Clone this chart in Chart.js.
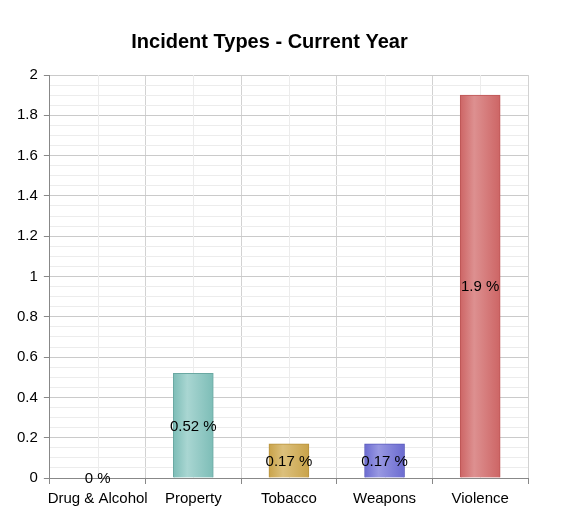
<!DOCTYPE html>
<html>
<head>
<meta charset="utf-8">
<script src="https://cdn.jsdelivr.net/npm/chart.js@4/dist/chart.umd.min.js"></script>
<style>
  html, body { margin: 0; padding: 0; background: #fff; }
  #chart { display: block; }
</style>
</head>
<body>
<canvas id="chart" width="562" height="523"></canvas>
<script>
const categories = ["Drug & Alcohol", "Property", "Tobacco", "Weapons", "Violence"];
const values = [0, 0.52, 0.17, 0.17, 1.9];
// edge / highlight / border colour per bar
const barEdge = ["#9a9a9a", "#7dbdb7", "#c9a34a", "#6b6bd0", "#cd6565"];
const barLight = ["#c0c0c0", "#a9d6d2", "#dcc07c", "#9898e2", "#dd9090"];
const barBorder = ["#888888", "#6aa8a2", "#b8923c", "#5a5abc", "#bd5656"];

const BAR_W = 40;

function isMajor(v) {
  const r = v / 0.2;
  return Math.abs(r - Math.round(r)) < 1e-6;
}

function barGradient(ctx) {
  const chart = ctx.chart;
  const xs = chart.scales.x;
  const i = ctx.dataIndex;
  if (!xs || i === undefined) return barEdge[0];
  const x = xs.getPixelForValue(i);
  if (!isFinite(x)) return barEdge[i];
  const g = chart.ctx.createLinearGradient(x - BAR_W / 2, 0, x + BAR_W / 2, 0);
  g.addColorStop(0, barEdge[i]);
  g.addColorStop(0.35, barLight[i]);
  g.addColorStop(1, barEdge[i]);
  return g;
}

// light vertical lines through category centres
const minorX = {
  id: "minorX",
  beforeDatasetsDraw(chart) {
    const { ctx, chartArea, scales } = chart;
    ctx.save();
    ctx.strokeStyle = "#ececec";
    ctx.lineWidth = 1;
    categories.forEach((c, i) => {
      const x = Math.round(scales.x.getPixelForValue(i)) + 0.5;
      ctx.beginPath();
      ctx.moveTo(x, chartArea.top);
      ctx.lineTo(x, chartArea.bottom);
      ctx.stroke();
    });
    ctx.restore();
  }
};

// value labels in the middle of each bar
const barLabels = {
  id: "barLabels",
  afterDatasetsDraw(chart) {
    const { ctx } = chart;
    const meta = chart.getDatasetMeta(0);
    ctx.save();
    ctx.font = "15px 'Liberation Sans', Arial, sans-serif";
    ctx.fillStyle = "#000";
    ctx.textAlign = "center";
    ctx.textBaseline = "middle";
    meta.data.forEach((bar, i) => {
      const y = (bar.y + bar.base) / 2 + 1;
      ctx.fillText(values[i] + " %", bar.x, y);
    });
    ctx.restore();
  }
};

new Chart(document.getElementById("chart"), {
  type: "bar",
  data: {
    labels: categories,
    datasets: [{
      data: values,
      backgroundColor: barGradient,
      borderColor: barBorder,
      borderWidth: 1,
      barThickness: BAR_W
    }]
  },
  options: {
    responsive: false,
    animation: false,
    layout: { padding: { left: 11, right: 34, top: 30, bottom: 9 } },
    plugins: {
      legend: { display: false },
      tooltip: { enabled: false },
      title: {
        display: true,
        text: "Incident Types - Current Year",
        color: "#000",
        font: { family: "'Liberation Sans', Arial, sans-serif", size: 20, weight: "bold" },
        padding: { top: 0, bottom: 21 }
      }
    },
    scales: {
      x: {
        offset: true,
        grid: {
          offset: true,
          color: "#d2d2d2",
          tickColor: "#888",
          tickLength: 6
        },
        border: { color: "#888" },
        ticks: {
          color: "#000",
          padding: 6,
          maxRotation: 0,
          autoSkip: false,
          font: { family: "'Liberation Sans', Arial, sans-serif", size: 15 }
        }
      },
      y: {
        min: 0,
        max: 2,
        grid: {
          color: c => isMajor(c.tick.value) ? "#cacaca" : "#ececec",
          tickColor: c => isMajor(c.tick.value) ? "#888" : "rgba(0,0,0,0)",
          tickLength: 6
        },
        border: { color: "#888" },
        ticks: {
          stepSize: 0.05,
          autoSkip: false,
          color: "#000",
          padding: 6,
          font: { family: "'Liberation Sans', Arial, sans-serif", size: 15 },
          callback: v => isMajor(v) ? String(+v.toFixed(2)) : ""
        }
      }
    }
  },
  plugins: [minorX, barLabels]
});
</script>
</body>
</html>
